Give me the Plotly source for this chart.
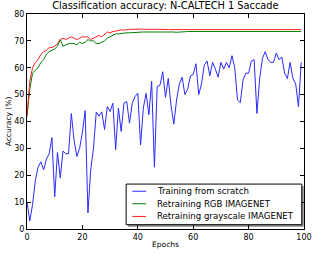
import plotly.graph_objects as go

epochs = list(range(100))

scratch = [10, 3, 9, 18, 23, 25, 22, 26, 28, 34,
           12, 28.5, 19, 29, 28, 28, 43, 33, 27, 30,
           36, 44, 6, 22, 30, 43.5, 42, 43.6, 37, 45.6,
           43.7, 46.8, 29.5, 45, 36.3, 46.8, 47.4, 39.4, 46.8, 49.3,
           50.5, 31.3, 45, 50.5, 42.5, 55, 23, 53, 53.5, 58.5,
           49, 56, 46, 39, 48, 54, 56.5, 50, 52, 57,
           57.5, 61.5, 50, 54, 61, 62.5, 57, 62, 59.5, 56.5,
           62, 59.5, 62, 60, 64.5, 60, 48, 47, 55.5, 58,
           58, 62.5, 63, 43, 56, 63.5, 66, 63, 62, 62,
           65.5, 63, 64, 58, 56, 62, 56, 54, 45.5, 62]

rgb = [42, 52, 58, 59, 60, 62, 63, 65, 66, 66.5,
       67, 68, 70.5, 68, 68.5, 69, 69, 69, 68.5, 69.5,
       69, 69.5, 70.5, 70, 70, 69, 69, 69.5, 70, 71,
       71.6, 72, 72.6, 72.6, 72.8, 72.8, 73, 73, 73.1, 73.1,
       73.2, 73.2, 73.3, 73.3, 73.3, 73.4, 73.4, 73.5, 73.5, 73.5,
       73.5, 73.5, 73.4, 73.3, 73.2, 73.2, 73.3, 73.4, 73.5, 73.5,
       73.6, 73.6, 73.5, 73.5, 73.5, 73.4, 73.4, 73.5, 73.5, 73.5,
       73.5, 73.5, 73.5, 73.5, 73.5, 73.5, 73.5, 73.5, 73.5, 73.5,
       73.5, 73.5, 73.5, 73.5, 73.5, 73.5, 73.5, 73.5, 73.5, 73.5,
       73.5, 73.5, 73.5, 73.5, 73.5, 73.5, 73.5, 73.5, 73.5, 73.5]

gray = [42, 55, 60, 62, 63, 65, 66, 66.5, 67.5, 67.5,
        68, 69, 70.5, 71, 70.5, 71, 71.5, 71, 70.5, 71,
        71.5, 71.5, 71.5, 70.5, 71, 71.5, 72, 71.5, 72.5, 73.3,
        73, 73.5, 73.6, 74, 74.1, 74, 74.2, 74.3, 74.3, 74.4,
        74.5, 74.4, 74.3, 74.4, 74.3, 74.3, 74.2, 74.3, 74.3, 74.2,
        74.2, 74.2, 74.2, 74.2, 74.2, 74.2, 74.2, 74.2, 74.2, 74.2,
        74.2, 74.2, 74.2, 74.2, 74.2, 74.2, 74.2, 74.2, 74.2, 74.2,
        74.2, 74.2, 74.2, 74.2, 74.2, 74.2, 74.2, 74.2, 74.2, 74.2,
        74.2, 74.2, 74.2, 74.2, 74.2, 74.2, 74.2, 74.2, 74.2, 74.2,
        74.2, 74.2, 74.2, 74.2, 74.2, 74.2, 74.2, 74.2, 74.2, 74.2]

names = ["Training from scratch", "Retraining RGB IMAGENET", "Retraining grayscale IMAGENET"]
colors = ["#2a2aff", "#008000", "#ff2020"]
x_ticks = [0, 20, 40, 60, 80, 100]
y_ticks = [0, 10, 20, 30, 40, 50, 60, 70, 80]

FONT = "DejaVu Sans"

fig = go.Figure()
for ys, nm, c in zip([scratch, rgb, gray], names, colors):
    fig.add_trace(go.Scatter(x=epochs, y=ys, mode="lines", name=nm,
                             line=dict(color=c, width=1)))

axis_common = dict(showline=True, linecolor="black", linewidth=1, mirror="ticks",
                   ticks="inside", ticklen=4, tickcolor="black", showgrid=False,
                   zeroline=False, automargin=False,
                   tickfont=dict(family=FONT, size=8, color="black"))

# legend drawn as a framed box (matplotlib style, with shadow)
LX0, LX1, LY0, LY1 = 0.358, 0.992, 0.02, 0.209
shapes = [
    dict(type="rect", xref="paper", yref="paper", x0=LX0 + 0.007, x1=LX1 + 0.007,
         y0=LY0 - 0.009, y1=LY1 - 0.009, fillcolor="rgba(0,0,0,0.45)", line=dict(width=0),
         layer="above"),
    dict(type="rect", xref="paper", yref="paper", x0=LX0, x1=LX1, y0=LY0, y1=LY1,
         fillcolor="white", line=dict(color="black", width=1), layer="above"),
]
annotations = []
row_y = [0.1756, 0.1175, 0.0585]
for nm, c, ry in zip(names, colors, row_y):
    shapes.append(dict(type="line", xref="paper", yref="paper", x0=0.380, x1=0.430,
                       y0=ry, y1=ry, line=dict(color=c, width=1), layer="above"))
    annotations.append(dict(text=nm, xref="paper", yref="paper", x=0.4627, y=ry,
                            xanchor="left", yanchor="middle", showarrow=False,
                            font=dict(family=FONT, size=8.6, color="black")))

fig.update_layout(
    width=318, height=255,
    margin=dict(l=27, r=14, t=14, b=26),
    paper_bgcolor="white", plot_bgcolor="white",
    font=dict(family=FONT, size=8, color="black"),
    title=dict(text="Classification accuracy: N-CALTECH 1 Saccade",
               x=0.52, xanchor="center", y=0.99, yanchor="top",
               font=dict(family=FONT, size=9.8, color="black")),
    xaxis=dict(range=[0, 100], tickvals=x_ticks,
               title=dict(text="Epochs", font=dict(family=FONT, size=7.5), standoff=1),
               **axis_common),
    yaxis=dict(range=[0, 80], tickvals=y_ticks,
               title=dict(text="Accuracy (%)", font=dict(family=FONT, size=7.5), standoff=1),
               **axis_common),
    shapes=shapes,
    annotations=annotations,
    showlegend=False,
)

fig.write_html("out.html", config={"displayModeBar": False},
               post_script="document.body.style.margin='0';")
